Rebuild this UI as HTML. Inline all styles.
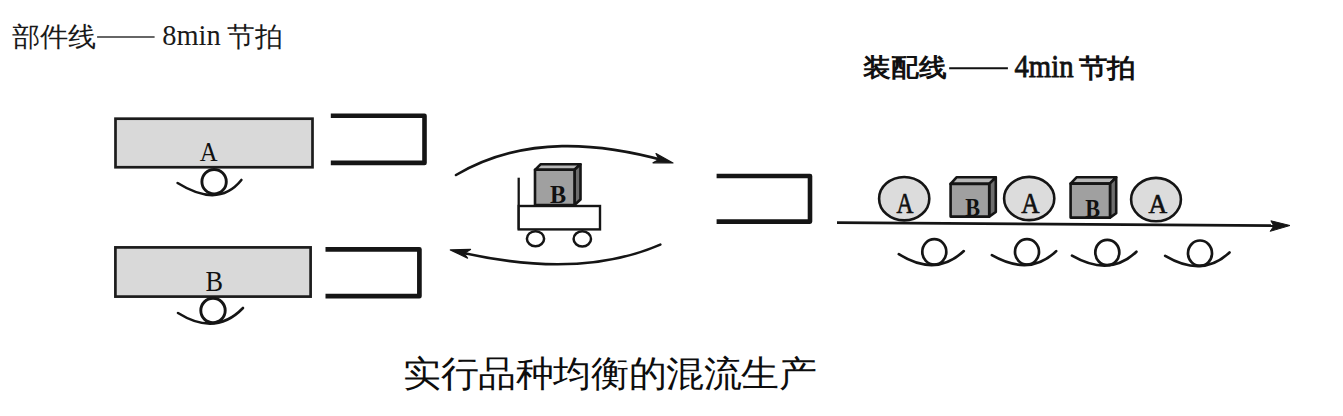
<!DOCTYPE html>
<html>
<head>
<meta charset="utf-8">
<style>
html,body{margin:0;padding:0;background:#fff;}
body{width:1343px;height:416px;overflow:hidden;position:relative;}
svg{position:absolute;left:0;top:0;display:block;}
text{font-family:"Liberation Serif",serif;}
</style>
</head>
<body>
<svg width="1343" height="416" viewBox="0 0 1343 416">
<rect x="0" y="0" width="1343" height="416" fill="#fff"/>
<text transform="matrix(1 0 0 0.9550 0 46.14)" x="12.00 39.85 67.70" y="0" font-size="27.85" fill="#1a1a1a">部件线</text>
<line x1="97.1" y1="37.05" x2="154.6" y2="37.05" stroke="#333" stroke-width="1.6"/>
<text transform="matrix(0.9863 0 0 1 162.24 44.89)" font-size="28.82" fill="#1a1a1a">8min</text>
<text transform="matrix(1 0 0 0.9737 0 46.24)" x="227.00 254.60" y="0" font-size="27.60" fill="#1a1a1a">节拍</text>
<text transform="matrix(1 0 0 0.8983 0 76.43)" x="863.50 891.50 919.50" y="0" font-size="28.00" font-weight="bold" fill="#111">装配线</text>
<line x1="949.2" y1="68.2" x2="1007.9" y2="68.2" stroke="#111" stroke-width="1.9"/>
<text transform="matrix(0.9097 0 0 1 1014.51 77.31)" font-size="31.60" fill="#111" stroke="#111" stroke-width="0.790">4min</text>
<text transform="matrix(1 0 0 0.9127 0 77.27)" x="1079.00 1107.00" y="0" font-size="28.00" font-weight="bold" fill="#111">节拍</text>
<rect x="115.5" y="118.7" width="197" height="48.55" fill="#d9d9d9" stroke="#1c1c1c" stroke-width="2.7"/>
<text transform="matrix(0.8875 0 0 1 199.85 160.58)" font-size="27.85" fill="#111">A</text>
<circle cx="214.1" cy="181.7" r="12.2" fill="none" stroke="#151515" stroke-width="2.9"/>
<path d="M177.6 183.0Q218.5 208.5 241.4 180.0" fill="none" stroke="#151515" stroke-width="2.6" stroke-linecap="round"/>
<path d="M330.8 115.8H424.5V162.9H330.8" fill="none" stroke="#151515" stroke-width="4.6" stroke-linejoin="round"/>
<rect x="115.4" y="247.4" width="195.2" height="49.2" fill="#d9d9d9" stroke="#1c1c1c" stroke-width="2.7"/>
<text transform="matrix(0.8988 0 0 1 205.61 290.70)" font-size="29.23" fill="#111">B</text>
<circle cx="213" cy="310.5" r="12.2" fill="none" stroke="#151515" stroke-width="2.9"/>
<path d="M178.0 313.0Q215.5 336.5 243.0 308.0" fill="none" stroke="#151515" stroke-width="2.6" stroke-linecap="round"/>
<path d="M325.5 249.3H419.4V296.2H325.5" fill="none" stroke="#151515" stroke-width="4.7" stroke-linejoin="round"/>
<path d="M456.0 175.0C524.5 134.9 600.1 142.8 666 161" fill="none" stroke="#151515" stroke-width="2.6" stroke-linecap="round"/>
<path d="M656 153.5L673 163L653 162.8L659 159.5Z" fill="#151515" stroke="#151515" stroke-width="1.2" stroke-linejoin="round"/>
<path d="M660.3 244.6C594.1 273.4 518.8 266.0 457 251.5" fill="none" stroke="#151515" stroke-width="2.6" stroke-linecap="round"/>
<path d="M470.5 249.4L450.3 249.9L467.6 258.1L464 253.5Z" fill="#151515" stroke="#151515" stroke-width="1.2" stroke-linejoin="round"/>
<line x1="518.7" y1="177.7" x2="518.7" y2="229.5" stroke="#151515" stroke-width="2.3"/>
<rect x="518.7" y="206" width="81.3" height="23.4" fill="#fff" stroke="#151515" stroke-width="2.4"/>
<ellipse cx="535.5" cy="238.7" rx="8.6" ry="7.5" fill="#fff" stroke="#151515" stroke-width="2.5"/>
<ellipse cx="582.3" cy="238.9" rx="8.7" ry="7.6" fill="#fff" stroke="#151515" stroke-width="2.5"/>
<path d="M535 169.8L540.5 164.3H580.5L574.5 169.8Z" fill="#b8b8b8" stroke="#151515" stroke-width="2.6" stroke-linejoin="round"/><path d="M574.5 169.8L580.5 164.3V199.5L574.5 205Z" fill="#6e6e6e" stroke="#151515" stroke-width="2.6" stroke-linejoin="round"/><path d="M535 169.8H574.5V205H535Z" fill="#a0a0a0" stroke="#151515" stroke-width="2.6" stroke-linejoin="round"/>
<text transform="matrix(0.9589 0 0 1 550.02 203.40)" font-size="25.23" font-weight="bold" fill="#111">B</text>
<path d="M716.6 176H810V221.6H716.6" fill="none" stroke="#151515" stroke-width="4.6" stroke-linejoin="round"/>
<line x1="837" y1="222.6" x2="1276" y2="225.7" stroke="#151515" stroke-width="2.8"/>
<path d="M1290 225.5L1270.9 220.8L1273.8 226L1270.2 231.3Z" fill="#151515" stroke="#151515" stroke-width="1" stroke-linejoin="round"/>
<ellipse cx="904.2" cy="198.7" rx="25.1" ry="21.7" fill="#dcdcdc" stroke="#151515" stroke-width="2.6"/>
<text transform="matrix(0.8015 0 0 1 896.57 212.69)" font-size="29.23" fill="#111" stroke="#111" stroke-width="0.672">A</text>
<path d="M950.6 183.9L956.5 177.3H995.8L989.2 183.9Z" fill="#b8b8b8" stroke="#151515" stroke-width="2.6" stroke-linejoin="round"/><path d="M989.2 183.9L995.8 177.3V212L989.2 216.6Z" fill="#6e6e6e" stroke="#151515" stroke-width="2.6" stroke-linejoin="round"/><path d="M950.6 183.9H989.2V216.6H950.6Z" fill="#a0a0a0" stroke="#151515" stroke-width="2.6" stroke-linejoin="round"/>
<text transform="matrix(0.9099 0 0 1 965.35 216.40)" font-size="24.46" font-weight="bold" fill="#111">B</text>
<ellipse cx="1029.2" cy="198.5" rx="25.1" ry="21.6" fill="#dcdcdc" stroke="#151515" stroke-width="2.6"/>
<text transform="matrix(0.8650 0 0 1 1021.35 213.09)" font-size="29.23" fill="#111" stroke="#111" stroke-width="0.672">A</text>
<path d="M1070.6 183.6L1076.5 177.3H1116.2L1110 183.6Z" fill="#b8b8b8" stroke="#151515" stroke-width="2.6" stroke-linejoin="round"/><path d="M1110 183.6L1116.2 177.3V213.2L1110 217.6Z" fill="#6e6e6e" stroke="#151515" stroke-width="2.6" stroke-linejoin="round"/><path d="M1070.6 183.6H1110V217.6H1070.6Z" fill="#a0a0a0" stroke="#151515" stroke-width="2.6" stroke-linejoin="round"/>
<text transform="matrix(0.8768 0 0 1 1085.35 217.00)" font-size="25.38" font-weight="bold" fill="#111">B</text>
<ellipse cx="1156" cy="199.6" rx="24.9" ry="21.7" fill="#dcdcdc" stroke="#151515" stroke-width="2.6"/>
<text transform="matrix(0.9286 0 0 1 1148.54 213.48)" font-size="27.85" fill="#111" stroke="#111" stroke-width="0.640">A</text>
<ellipse cx="934.3" cy="251.9" rx="12" ry="12.7" fill="none" stroke="#151515" stroke-width="2.7"/>
<path d="M898.8 254.2Q935.9 277.4 963.8 251.1" fill="none" stroke="#151515" stroke-width="2.7" stroke-linecap="round"/>
<ellipse cx="1027" cy="251.9" rx="12" ry="12.7" fill="none" stroke="#151515" stroke-width="2.7"/>
<path d="M991.9 255.2Q1030.0 276.9 1056.2 251.1" fill="none" stroke="#151515" stroke-width="2.7" stroke-linecap="round"/>
<ellipse cx="1107.3" cy="252.5" rx="12" ry="12.7" fill="none" stroke="#151515" stroke-width="2.7"/>
<path d="M1072.0 255.6Q1109.8 277.3 1136.4 251.8" fill="none" stroke="#151515" stroke-width="2.7" stroke-linecap="round"/>
<ellipse cx="1200" cy="253.2" rx="12" ry="12.7" fill="none" stroke="#151515" stroke-width="2.7"/>
<path d="M1165.2 255.8Q1202.7 277.9 1229.5 252.5" fill="none" stroke="#151515" stroke-width="2.7" stroke-linecap="round"/>
<text transform="matrix(1 0 0 0.9499 0 386.16)" x="403.30 440.85 478.40 515.95 553.50 591.05 628.60 666.15 703.70 741.25 778.80" y="0" font-size="37.55" fill="#0d0d0d">实行品种均衡的混流生产</text>
</svg>
</body>
</html>
